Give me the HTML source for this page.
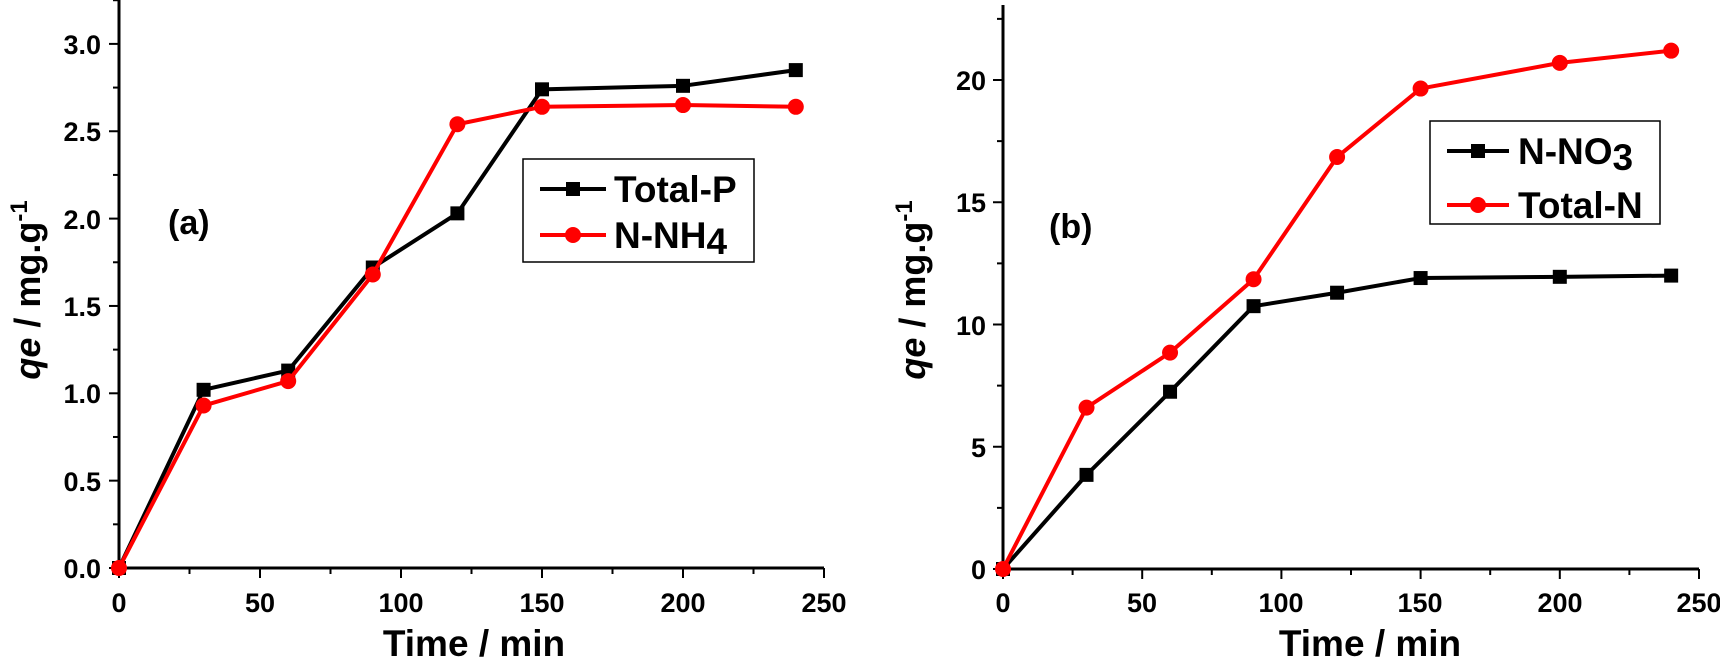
<!DOCTYPE html>
<html><head><meta charset="utf-8"><style>
html,body{margin:0;padding:0;background:#fff;}
svg{display:block;}
text{font-family:"Liberation Sans",Arial,sans-serif;font-weight:bold;fill:#000;}
</style></head><body>
<svg id="s" width="1720" height="657" viewBox="0 0 1720 657" xmlns="http://www.w3.org/2000/svg">
<rect x="523" y="159" width="231" height="103" fill="none" stroke="#000" stroke-width="1.5"/>
<rect x="1430" y="121" width="230" height="103" fill="none" stroke="#000" stroke-width="1.5"/>
<g id="g"></g>
<!-- Left chart labels -->
<g font-size="27" text-anchor="end">
<text x="101" y="578">0.0</text>
<text x="101" y="491">0.5</text>
<text x="101" y="403">1.0</text>
<text x="101" y="316">1.5</text>
<text x="101" y="229">2.0</text>
<text x="101" y="141">2.5</text>
<text x="101" y="54">3.0</text>
</g>
<g font-size="27" text-anchor="middle">
<text x="119" y="612">0</text>
<text x="260" y="612">50</text>
<text x="401" y="612">100</text>
<text x="542" y="612">150</text>
<text x="683" y="612">200</text>
<text x="824" y="612">250</text>
</g>
<text x="474" y="656" font-size="37" text-anchor="middle">Time / min</text>
<text transform="translate(40,290) rotate(-90)" font-size="36" text-anchor="middle"><tspan font-style="italic">qe</tspan> / mg.g<tspan font-size="24" dy="-13">-1</tspan></text>
<text x="168" y="234" font-size="34">(a)</text>
<text x="614" y="202" font-size="37">Total-P</text>
<text x="614" y="248" font-size="37">N-NH<tspan dy="6">4</tspan></text>

<!-- Right chart labels -->
<g font-size="27" text-anchor="end">
<text x="986" y="579">0</text>
<text x="986" y="457">5</text>
<text x="986" y="335">10</text>
<text x="986" y="212">15</text>
<text x="986" y="90">20</text>
</g>
<g font-size="27" text-anchor="middle">
<text x="1003" y="612">0</text>
<text x="1142" y="612">50</text>
<text x="1281" y="612">100</text>
<text x="1420" y="612">150</text>
<text x="1560" y="612">200</text>
<text x="1699" y="612">250</text>
</g>
<text x="1370" y="656" font-size="37" text-anchor="middle">Time / min</text>
<text transform="translate(925,290) rotate(-90)" font-size="36" text-anchor="middle"><tspan font-style="italic">qe</tspan> / mg.g<tspan font-size="24" dy="-13">-1</tspan></text>
<text x="1049" y="238" font-size="34">(b)</text>
<text x="1518" y="164" font-size="37">N-NO<tspan dy="6">3</tspan></text>
<text x="1518" y="218" font-size="37">Total-N</text>
</svg>
<script>
var NS="http://www.w3.org/2000/svg",g=document.getElementById('g');
function el(t,a){var e=document.createElementNS(NS,t);for(var k in a)e.setAttribute(k,a[k]);g.appendChild(e);return e;}
function chart(x0,y0,xs,ys,xEnd,yTop,ymaj,ymin,ymax,series){
 el('line',{x1:x0,y1:y0,x2:xEnd,y2:y0,stroke:'#000','stroke-width':3});
 el('line',{x1:x0,y1:y0,x2:x0,y2:yTop,stroke:'#000','stroke-width':3});
 for(var v=0;v<=250;v+=25){var x=x0+v*xs,L=(v%50==0)?10:6;el('line',{x1:x,y1:y0,x2:x,y2:y0+L,stroke:'#000','stroke-width':2});}
 for(var i=0;ymin*i<=ymax+1e-9;i++){var v=ymin*i,y=y0-v*ys,maj=Math.abs(v/ymaj-Math.round(v/ymaj))<1e-6,L=maj?10:6;el('line',{x1:x0-L,y1:y,x2:x0,y2:y,stroke:'#000','stroke-width':2});}
 series.forEach(function(s){
  var pts=s.d.map(function(p){return [x0+p[0]*xs,y0-p[1]*ys];});
  el('polyline',{points:pts.map(function(p){return p.join(',')}).join(' '),fill:'none',stroke:s.c,'stroke-width':4,'stroke-linejoin':'round'});
  pts.forEach(function(p){if(s.m=='sq')el('rect',{x:p[0]-7,y:p[1]-7,width:14,height:14,fill:s.c});else el('circle',{cx:p[0],cy:p[1],r:8,fill:s.c});});
  if(s.lg){var a=s.lg;el('line',{x1:a[0],y1:a[2],x2:a[1],y2:a[2],stroke:s.c,'stroke-width':4});var cx=(a[0]+a[1])/2;if(s.m=='sq')el('rect',{x:cx-7,y:a[2]-7,width:14,height:14,fill:s.c});else el('circle',{cx:cx,cy:a[2],r:8,fill:s.c});}
 });
}
var T=[0,30,60,90,120,150,200,240];
function z(a){return T.map(function(t,i){return [t,a[i]];});}
chart(119,568,2.82,174.7,824,0,0.5,0.25,3.25,[
 {c:'#000',m:'sq',d:z([0,1.02,1.13,1.72,2.03,2.74,2.76,2.85]),lg:[540,606,189]},
 {c:'#ff0000',m:'ci',d:z([0,0.93,1.07,1.68,2.54,2.64,2.65,2.64]),lg:[540,606,235]}]);
chart(1003,569,2.784,24.45,1699,5,5,2.5,22.5,[
 {c:'#000',m:'sq',d:z([0,3.85,7.25,10.75,11.3,11.9,11.95,12.0]),lg:[1447,1509,151]},
 {c:'#ff0000',m:'ci',d:z([0,6.6,8.85,11.85,16.85,19.65,20.7,21.2]),lg:[1447,1509,205]}]);
</script>
</body></html>
